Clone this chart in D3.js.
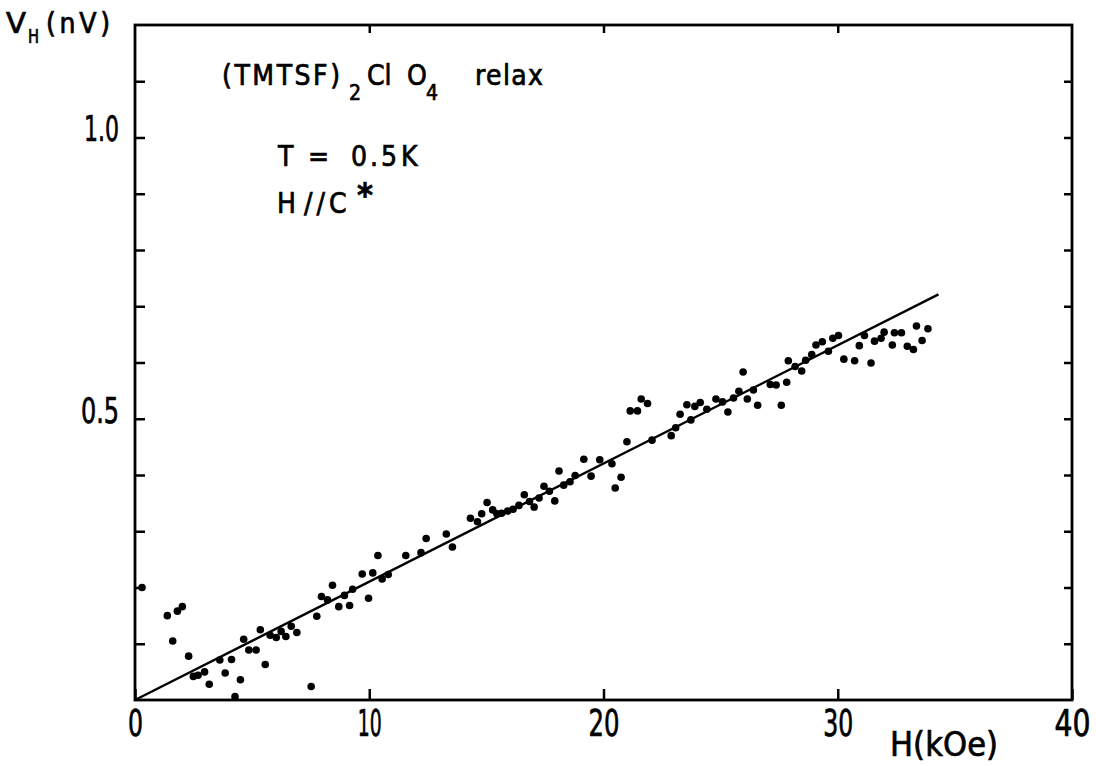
<!DOCTYPE html>
<html lang="en">
<head>
<meta charset="UTF-8">
<title>Hall voltage vs field - (TMTSF)2ClO4</title>
<script src="https://d3js.org/d3.v7.min.js"></script>
<style>
  body { margin: 0; background: #fff; }
  svg { font-family: "DejaVu Sans Condensed", "DejaVu Sans", sans-serif; }
  svg text { fill: #000; stroke: #000; stroke-width: 0.7; }
  .axis text { font-size: 37px; font-family: "DejaVu Sans Condensed", "DejaVu Sans", sans-serif; }
  .axis.y text { font-size: 36px; }
  .axis line { stroke: #000; stroke-width: 2.5; }
  .axis path { display: none; }
  .note { font-size: 28px; }
</style>
</head>
<body>
<svg width="1096" height="766"></svg>
<script>
// field H (kOe) and Hall voltage V_H (nV)
const hField = [
  0.30, 1.38, 1.61, 1.81, 2.02, 2.29, 2.49, 2.69, 2.97, 3.17,
  3.62, 3.85, 4.12, 4.27, 4.50, 4.64, 4.86, 5.17, 5.35, 5.56,
  5.77, 6.03, 6.24, 6.44, 6.67, 6.91, 7.52, 7.76, 7.96, 8.22,
  8.43, 8.70, 8.94, 9.16, 9.29, 9.70, 9.97, 10.15, 10.37, 10.55,
  10.81, 11.56, 12.21, 12.43, 13.29, 13.55, 14.32, 14.62, 14.80, 15.03,
  15.27, 15.45, 15.65, 15.91, 16.14, 16.39, 16.62, 16.84, 17.04, 17.25,
  17.46, 17.69, 17.92, 18.10, 18.30, 18.57, 18.79, 19.16, 19.47, 19.84,
  20.36, 20.50, 20.75, 21.00, 21.14, 21.45, 21.61, 21.88, 22.07, 22.89,
  23.08, 23.27, 23.56, 23.73, 23.90, 24.13, 24.41, 24.80, 25.08, 25.31,
  25.55, 25.78, 25.96, 26.14, 26.40, 26.58, 27.12, 27.37, 27.59, 27.82,
  27.89, 28.18, 28.46, 28.63, 28.89, 29.07, 29.34, 29.60, 29.79, 30.03,
  30.26, 30.72, 30.92, 31.14, 31.42, 31.57, 31.85, 31.98, 32.33, 32.42,
  32.72, 32.97, 33.23, 33.36, 33.60, 33.85
];
const vHall = [
  0.200, 0.150, 0.105, 0.158, 0.166, 0.078, 0.042, 0.044, 0.050, 0.028,
  0.071, 0.048, 0.072, 0.006, 0.036, 0.108, 0.089, 0.089, 0.125, 0.063,
  0.115, 0.111, 0.122, 0.113, 0.131, 0.120, 0.024, 0.149, 0.184, 0.178,
  0.204, 0.166, 0.186, 0.168, 0.197, 0.224, 0.181, 0.226, 0.257, 0.215,
  0.223, 0.257, 0.262, 0.287, 0.295, 0.272, 0.323, 0.317, 0.331, 0.351,
  0.338, 0.331, 0.332, 0.336, 0.339, 0.346, 0.365, 0.353, 0.343, 0.359,
  0.380, 0.371, 0.354, 0.407, 0.382, 0.388, 0.399, 0.428, 0.398, 0.427,
  0.420, 0.377, 0.396, 0.459, 0.514, 0.514, 0.535, 0.527, 0.462, 0.470,
  0.484, 0.508, 0.525, 0.498, 0.522, 0.529, 0.517, 0.535, 0.530, 0.512,
  0.537, 0.549, 0.583, 0.535, 0.551, 0.524, 0.561, 0.560, 0.524, 0.565,
  0.603, 0.593, 0.585, 0.604, 0.614, 0.631, 0.637, 0.620, 0.643, 0.648,
  0.606, 0.603, 0.630, 0.648, 0.599, 0.638, 0.643, 0.654, 0.631, 0.653,
  0.653, 0.629, 0.623, 0.665, 0.639, 0.660
];

// straight-line fit through the origin
const fitH = [0, 34.3];
const fitV = [0, 0.721];

const xTicks = [0, 10, 20, 30, 40];
const xTopTicks = [10, 20, 30];
const yTicks = d3.range(1, 12).map(i => i / 10);
const yLabels = [0.5, 1.0];

// the lettering on the original is narrow, squeeze the labels to its widths
const xLabelWidth = { 0: 15, 10: 24, 20: 31, 30: 30, 40: 36 };
const yLabelWidth = { "0.5": 38, "1.0": 35 };

const svg = d3.select("svg");

const x = d3.scaleLinear().domain([0, 40]).range([135, 1072]);
const y = d3.scaleLinear().domain([0, 1.2]).range([700, 25]);

// frame
svg.append("rect")
  .attr("x", x(0)).attr("y", y(1.2))
  .attr("width", x(40) - x(0)).attr("height", y(0) - y(1.2))
  .attr("fill", "none").attr("stroke", "#000").attr("stroke-width", 2.8);

// ticks, all pointing inward
svg.append("g").attr("class", "axis x")
  .attr("transform", `translate(0,${y(0)})`)
  .call(d3.axisBottom(x).tickValues(xTicks).tickSize(-11).tickPadding(10).tickFormat(d3.format("d")))
  .selectAll("text")
  .attr("textLength", d => xLabelWidth[d])
  .attr("lengthAdjust", "spacingAndGlyphs");

svg.append("g").attr("class", "axis")
  .attr("transform", `translate(0,${y(1.2)})`)
  .call(d3.axisTop(x).tickValues(xTopTicks).tickSize(-8).tickFormat(""));

svg.append("g").attr("class", "axis y")
  .attr("transform", `translate(${x(0)},0)`)
  .call(d3.axisLeft(y).tickValues(yTicks).tickSize(-10).tickPadding(16)
    .tickFormat(d => yLabels.some(v => Math.abs(v - d) < 1e-9) ? d3.format(".1f")(d) : ""))
  .selectAll("text")
  .attr("dy", "0.09em")
  .filter(function() { return this.textContent !== ""; })
  .attr("textLength", function() { return yLabelWidth[this.textContent]; })
  .attr("lengthAdjust", "spacingAndGlyphs");

svg.append("g").attr("class", "axis")
  .attr("transform", `translate(${x(40)},0)`)
  .call(d3.axisRight(y).tickValues(yTicks).tickSize(-8).tickFormat(""));

// fit line
svg.append("path")
  .datum(d3.zip(fitH, fitV))
  .attr("fill", "none").attr("stroke", "#000").attr("stroke-width", 2.4)
  .attr("d", d3.line().x(d => x(d[0])).y(d => y(d[1])));

// data points
svg.append("g")
  .selectAll("circle")
  .data(d3.zip(hField, vHall))
  .join("circle")
  .attr("cx", d => x(d[0]))
  .attr("cy", d => y(d[1]))
  .attr("r", 3.8)
  .attr("fill", "#000");

// small helper for lettering pieces
function letter(g, str, px, py, size, width) {
  const t = g.append("text").attr("x", px).attr("y", py).text(str);
  if (size) t.attr("font-size", size);
  if (width) t.attr("textLength", width).attr("lengthAdjust", "spacing");
  return t;
}

// axis titles
const yTitle = svg.append("g");
letter(yTitle, "V", 6, 33, 28).attr("textLength", 20).attr("lengthAdjust", "spacingAndGlyphs");
letter(yTitle, "H", 28, 43, 19).attr("textLength", 11).attr("lengthAdjust", "spacingAndGlyphs");
letter(yTitle, "(nV)", 46, 33, 28, 64);

letter(svg, "H(kOe)", 890, 756, 34, 108);

// annotations
const note = svg.append("g").attr("class", "note");
letter(note, "(TMTSF)", 222, 85, null, 118);
letter(note, "2", 349, 100, 21);
letter(note, "Cl", 367, 85);
letter(note, "O", 407, 85);
letter(note, "4", 426, 100, 21);
letter(note, "relax", 475, 85, null, 68);

letter(note, "T", 278, 166);
letter(note, "=", 308, 166);
letter(note, "0.5", 351, 166, null, 46);
letter(note, "K", 401, 166);

letter(note, "H", 277, 213);
letter(note, "//", 304, 213, null, 21);
letter(note, "C", 329, 213);
letter(note, "*", 357, 207, 34).attr("font-weight", "bold");
</script>
</body>
</html>
